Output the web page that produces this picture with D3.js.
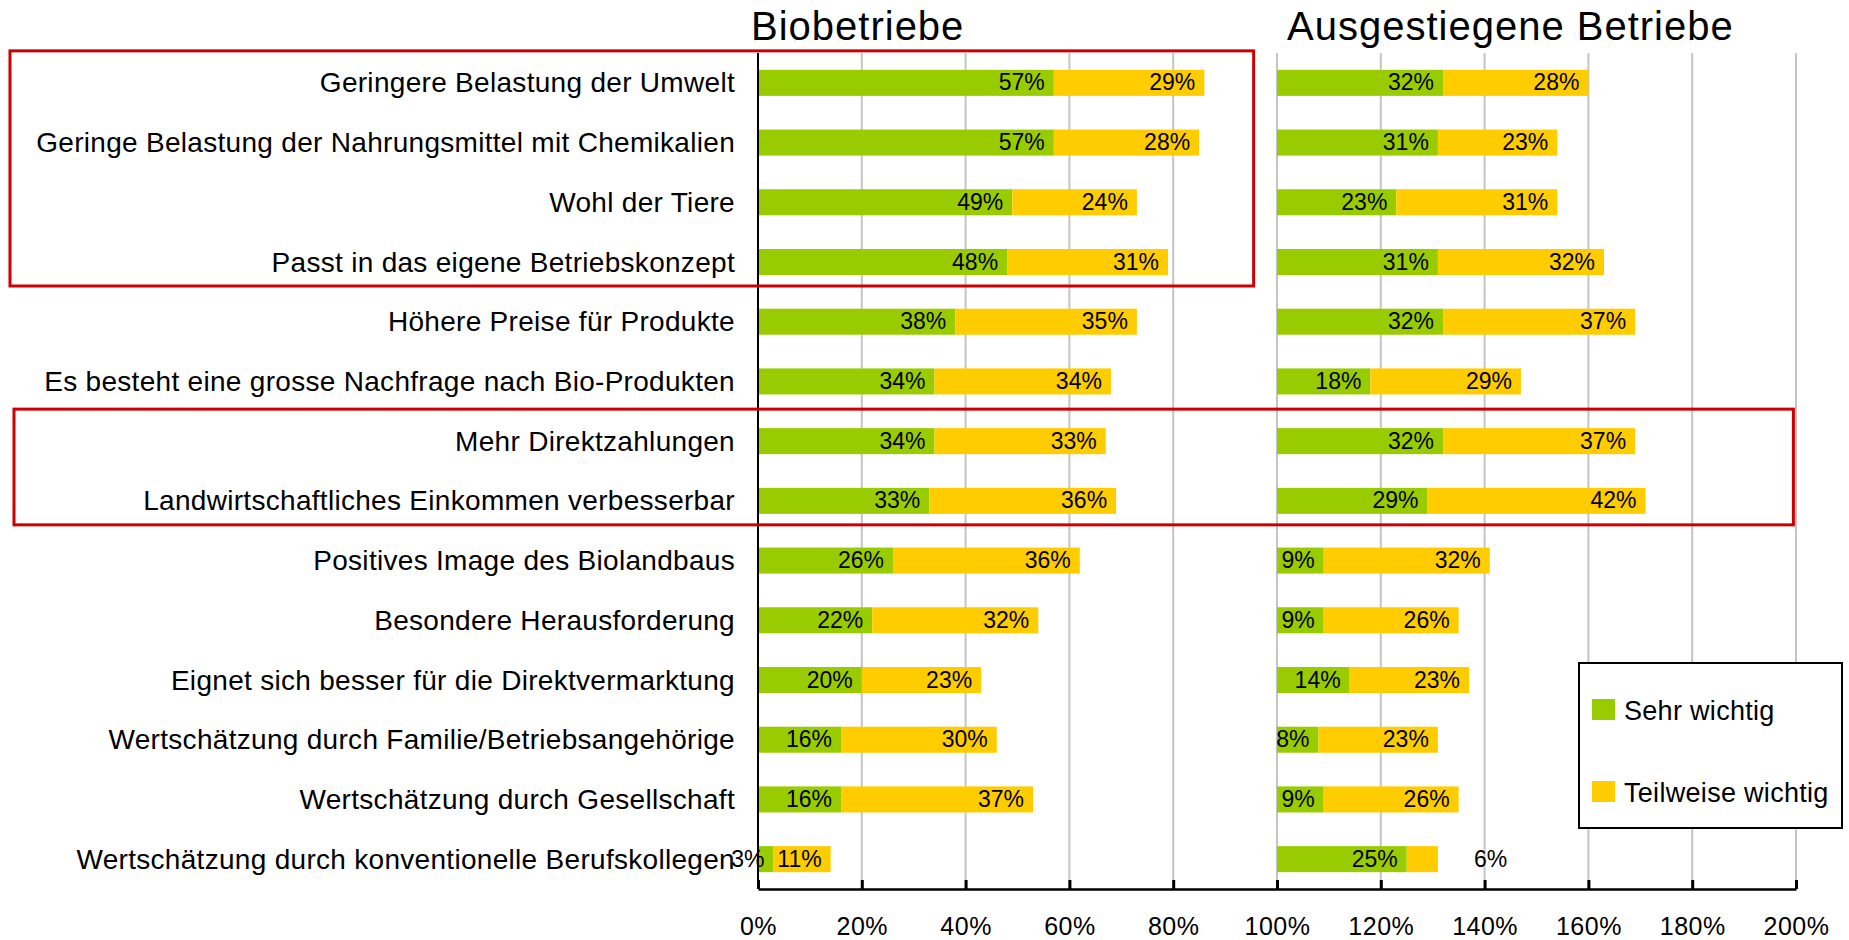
<!DOCTYPE html>
<head>
  <meta charset="utf-8">
  <script src="https://d3js.org/d3.v7.min.js"></script>
  <style>
    body { margin: 0; background: #fff; }
    svg { display: block; font-family: "Liberation Sans", Arial, sans-serif; }
  </style>
</head>

<body>
  <svg width="1849" height="940"></svg>

  <script>
    // categories, top to bottom
    const categories = [
      'Geringere Belastung der Umwelt',
      'Geringe Belastung der Nahrungsmittel mit Chemikalien',
      'Wohl der Tiere',
      'Passt in das eigene Betriebskonzept',
      'Höhere Preise für Produkte',
      'Es besteht eine grosse Nachfrage nach Bio-Produkten',
      'Mehr Direktzahlungen',
      'Landwirtschaftliches Einkommen verbesserbar',
      'Positives Image des Biolandbaus',
      'Besondere Herausforderung',
      'Eignet sich besser für die Direktvermarktung',
      'Wertschätzung durch Familie/Betriebsangehörige',
      'Wertschätzung durch Gesellschaft',
      'Wertschätzung durch konventionelle Berufskollegen'
    ];
    const bioSehr = [57, 57, 49, 48, 38, 34, 34, 33, 26, 22, 20, 16, 16, 3];
    const bioTeil = [29, 28, 24, 31, 35, 34, 33, 36, 36, 32, 23, 30, 37, 11];
    const ausSehr = [32, 31, 23, 31, 32, 18, 32, 29, 9, 9, 14, 8, 9, 25];
    const ausTeil = [28, 23, 31, 32, 37, 29, 37, 42, 32, 26, 23, 23, 26, 6];
    const groupTitles = ['Biobetriebe', 'Ausgestiegene Betriebe'];
    const seriesNames = ['Sehr wichtig', 'Teilweise wichtig'];
    const tickValues = [0, 20, 40, 60, 80, 100, 120, 140, 160, 180, 200];
    const colors = ['#99cc00', '#ffcc00'];

    const svg = d3.select('svg');

    const x = d3.scaleLinear().domain([0, 200]).range([758, 1796]);
    const y = d3.scaleBand()
      .domain(categories)
      .range([53, 889])
      .paddingInner(0.564)
      .paddingOuter(0.282);
    const bw = y.bandwidth();
    const cy = c => y(c) + bw / 2;

    // gridlines
    svg.append('g')
      .selectAll('line')
      .data(tickValues.slice(1))
      .join('line')
      .attr('x1', d => x(d)).attr('x2', d => x(d))
      .attr('y1', 53).attr('y2', 889)
      .attr('stroke', '#c4c4c4')
      .attr('stroke-width', 2);

    // build segments for both groups
    const groups = [
      { offset: 0, sehr: bioSehr, teil: bioTeil },
      { offset: 100, sehr: ausSehr, teil: ausTeil }
    ];
    const segments = [];
    groups.forEach((g, gi) => {
      categories.forEach((c, i) => {
        const a = g.offset, b = a + g.sehr[i], e = b + g.teil[i];
        segments.push({ cat: c, group: gi, s: 0, x0: a, x1: b, value: g.sehr[i] });
        segments.push({ cat: c, group: gi, s: 1, x0: b, x1: e, value: g.teil[i] });
      });
    });

    svg.append('g')
      .selectAll('rect')
      .data(segments)
      .join('rect')
      .attr('x', d => x(d.x0))
      .attr('y', d => y(d.cat))
      .attr('width', d => x(d.x1) - x(d.x0))
      .attr('height', bw)
      .attr('fill', d => colors[d.s]);

    // axes: left line at 0% and bottom axis with inner ticks
    svg.append('line')
      .attr('x1', x(0)).attr('x2', x(0))
      .attr('y1', 53).attr('y2', 889)
      .attr('stroke', '#000').attr('stroke-width', 2);

    const xAxis = svg.append('g')
      .attr('transform', 'translate(0,889)')
      .call(d3.axisBottom(x)
        .tickValues(tickValues)
        .tickSize(-9)
        .tickSizeOuter(0)
        .tickPadding(28)
        .tickFormat(d => d + '%'));
    xAxis.select('.domain').attr('stroke', '#000').attr('stroke-width', 2.5);
    xAxis.selectAll('.tick line').attr('stroke', '#000').attr('stroke-width', 3);
    xAxis.selectAll('.tick text')
      .attr('font-size', 25)
      .attr('font-family', '"Liberation Sans", Arial, sans-serif')
      .attr('letter-spacing', 0.5)
      .attr('fill', '#000');

    // value labels
    svg.append('g')
      .selectAll('text')
      .data(segments)
      .join('text')
      .attr('x', d => (d.group === 1 && d.value < 7) ? x(d.x1) + 36 : x(d.x1) - 9)
      .attr('y', d => cy(d.cat))
      .attr('dy', '0.33em')
      .attr('text-anchor', d => (d.group === 1 && d.value < 7) ? 'start' : 'end')
      .attr('font-size', 23)
      .attr('fill', '#000')
      .text(d => d.value + '%');

    // category labels
    svg.append('g')
      .selectAll('text')
      .data(categories)
      .join('text')
      .attr('x', 735)
      .attr('y', d => cy(d))
      .attr('dy', '0.34em')
      .attr('text-anchor', 'end')
      .attr('font-size', 28)
      .attr('letter-spacing', 0.3)
      .attr('fill', '#000')
      .text(d => d);

    // group titles
    svg.append('g')
      .selectAll('text')
      .data(groupTitles)
      .join('text')
      .attr('x', (d, i) => i === 0 ? x(0) - 7 : x(100) + 10)
      .attr('y', 40)
      .attr('font-size', 40)
      .attr('letter-spacing', 1)
      .attr('fill', '#000')
      .text(d => d);

    // red highlight boxes
    const boxes = [
      { from: categories[0], to: categories[3], left: 10, right: 95.5 },
      { from: categories[6], to: categories[7], left: 14, right: 199.5 }
    ];
    svg.append('g')
      .selectAll('rect')
      .data(boxes)
      .join('rect')
      .attr('x', d => d.left)
      .attr('y', d => cy(d.from) - 32)
      .attr('width', d => x(d.right) - d.left)
      .attr('height', d => cy(d.to) - cy(d.from) + 56)
      .attr('fill', 'none')
      .attr('stroke', '#cc0000')
      .attr('stroke-width', 3);

    // legend
    const legend = svg.append('g').attr('transform', 'translate(1579,663)');
    legend.append('rect')
      .attr('width', 263).attr('height', 165)
      .attr('fill', '#fff')
      .attr('stroke', '#000').attr('stroke-width', 2);
    const item = legend.selectAll('g.item')
      .data(seriesNames)
      .join('g')
      .attr('class', 'item')
      .attr('transform', (d, i) => `translate(13,${36 + i * 82})`);
    item.append('rect')
      .attr('width', 23).attr('height', 21)
      .attr('fill', (d, i) => colors[i]);
    item.append('text')
      .attr('x', 32)
      .attr('y', 21)
      .attr('font-size', 27)
      .attr('letter-spacing', 0.3)
      .attr('fill', '#000')
      .text(d => d);
  </script>
</body>
